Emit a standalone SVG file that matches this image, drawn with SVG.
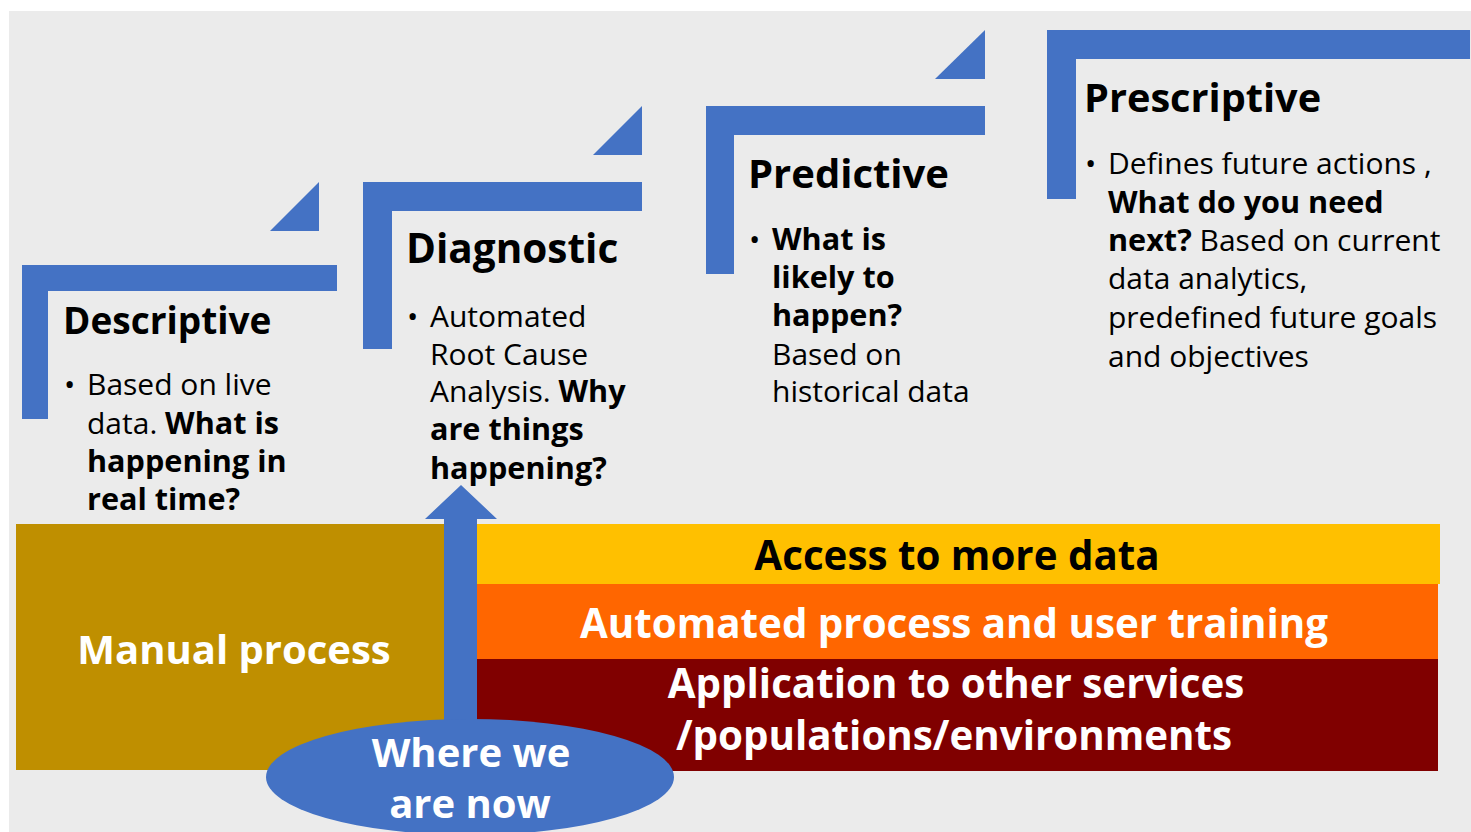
<svg xmlns="http://www.w3.org/2000/svg" width="1471" height="832" viewBox="0 0 1471 832">
<style>
.blue{fill:#4472C4}
.t{font-family:"Open Sans","Noto Sans","Liberation Sans",sans-serif;fill:#000}
.title{font-weight:bold}
.body{font-size:30px}
.b{font-weight:bold;font-size:30.6px}
.band{font-family:"Open Sans","Noto Sans","Liberation Sans",sans-serif;font-weight:bold;text-anchor:middle;font-size:40.3px}
</style>
<rect x="0" y="0" width="1471" height="832" fill="#ffffff"/>
<rect x="9" y="11" width="1462" height="821" fill="#ebebeb"/>

<g id="descriptive">
<polygon class="blue" points="270,231 319,182 319,231"/>
<path class="blue" d="M22,265 H337 V291 H48 V419 H22 Z"/>
<text class="t title" x="63" y="334" font-size="37">Descriptive</text>
<text class="t body" x="64" y="395">•</text>
<text class="t body" x="87" y="395">Based on live</text>
<text class="t body" x="87" y="434">data. <tspan class="b">What is</tspan></text>
<text class="t body b" x="87" y="472">happening in</text>
<text class="t body b" x="87" y="510">real time?</text>
</g>

<g id="diagnostic">
<polygon class="blue" points="593,155 642,106 642,155"/>
<path class="blue" d="M363,182 H642 V211 H392 V349 H363 Z"/>
<text class="t title" x="406" y="263" font-size="40.5">Diagnostic</text>
<text class="t body" x="407" y="327">•</text>
<text class="t body" x="430" y="327">Automated</text>
<text class="t body" x="430" y="365">Root Cause</text>
<text class="t body" x="430" y="402">Analysis. <tspan class="b">Why</tspan></text>
<text class="t body b" x="430" y="440">are things</text>
<text class="t body b" x="430" y="479">happening?</text>
</g>

<g id="predictive">
<polygon class="blue" points="935,79 985,30 985,79"/>
<path class="blue" d="M706,106 H985 V135 H734 V274 H706 Z"/>
<text class="t title" x="748" y="188" font-size="40">Predictive</text>
<text class="t body" x="749" y="250">•</text>
<text class="t body b" x="772" y="250">What is</text>
<text class="t body b" x="772" y="288">likely to</text>
<text class="t body b" x="772" y="326">happen?</text>
<text class="t body" x="772" y="365">Based on</text>
<text class="t body" x="772" y="402">historical data</text>
</g>

<g id="prescriptive">
<path class="blue" d="M1047,30 H1470 V59 H1076 V199 H1047 Z"/>
<text class="t title" x="1084" y="112" font-size="39.7">Prescriptive</text>
<text class="t body" x="1085" y="174">•</text>
<text class="t body" x="1108" y="174">Defines future actions ,</text>
<text class="t body b" x="1108" y="213">What do you need</text>
<text class="t body" x="1108" y="251"><tspan class="b">next?</tspan> Based on current</text>
<text class="t body" x="1108" y="289">data analytics,</text>
<text class="t body" x="1108" y="328">predefined future goals</text>
<text class="t body" x="1108" y="367">and objectives</text>
</g>

<g id="manual">
<rect x="16" y="524" width="428" height="246" fill="#BF8F00"/>
<text class="band" x="234" y="664" style="font-size:40px" fill="#ffffff">Manual process</text>
</g>

<g id="access">
<rect x="477" y="524" width="963" height="60" fill="#FFC000"/>
<text class="band" x="957" y="570" fill="#000000">Access to more data</text>
</g>

<g id="automated">
<rect x="477" y="584" width="961" height="75" fill="#FF6600"/>
<text class="band" x="954" y="638" fill="#ffffff">Automated process and user training</text>
</g>

<g id="application">
<rect x="477" y="659" width="961" height="112" fill="#800000"/>
<text class="band" x="956" y="698" fill="#ffffff">Application to other services</text>
<text class="band" x="954" y="750" fill="#ffffff">/populations/environments</text>
</g>

<g id="connectors">
<polygon class="blue" points="444,780 444,519 425,519 461,485 497,519 477,519 477,780"/>
</g>

<g id="where">
<ellipse class="blue" cx="470" cy="777" rx="204" ry="58"/>
<text class="band" x="471" y="767" style="font-size:40px" fill="#ffffff">Where we</text>
<text class="band" x="470" y="818" style="font-size:40px" fill="#ffffff">are now</text>
</g>
</svg>
